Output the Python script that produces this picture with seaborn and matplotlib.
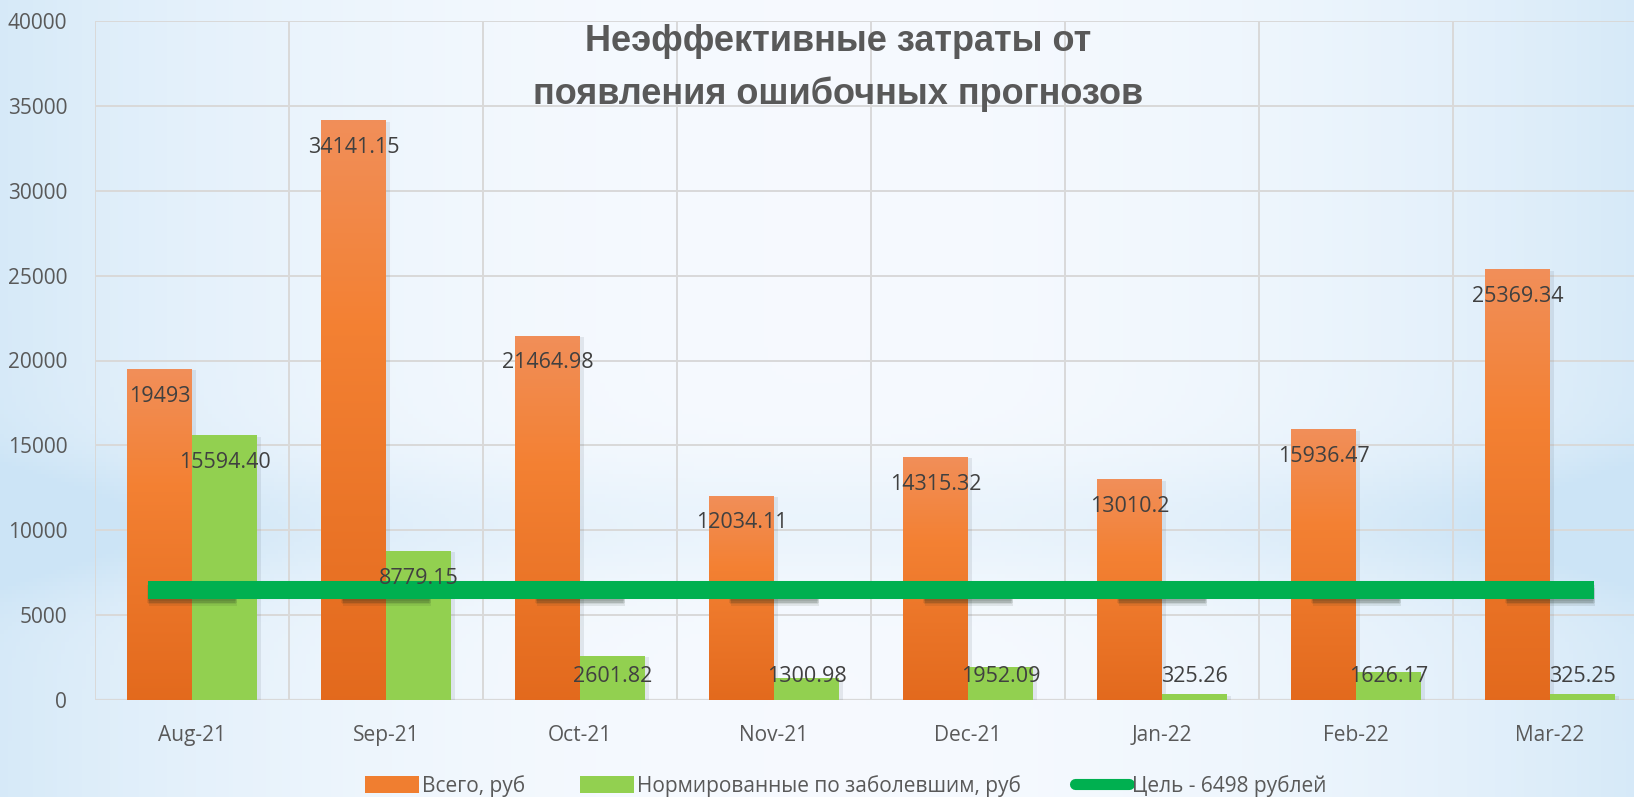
import numpy as np
import pandas as pd
import matplotlib
matplotlib.use("Agg")
import matplotlib.pyplot as plt
import matplotlib.patheffects as pe
from matplotlib.lines import Line2D
from matplotlib.patches import Patch
import seaborn as sns

# ---------------- data ----------------
months = ["Aug-21", "Sep-21", "Oct-21", "Nov-21", "Dec-21", "Jan-22", "Feb-22", "Mar-22"]
total = [19493, 34141.15, 21464.98, 12034.11, 14315.32, 13010.2, 15936.47, 25369.34]
total_labels = ["19493", "34141.15", "21464.98", "12034.11", "14315.32", "13010.2", "15936.47", "25369.34"]
normed = [15594.40, 8779.15, 2601.82, 1300.98, 1952.09, 325.26, 1626.17, 325.25]
normed_labels = ["15594.40", "8779.15", "2601.82", "1300.98", "1952.09", "325.26", "1626.17", "325.25"]
target = 6498
series_names = ["Всего, руб", "Нормированные по заболевшим, руб"]
target_name = "Цель - 6498 рублей"
title = "Неэффективные затраты от\nпоявления ошибочных прогнозов"
yticks = [0, 5000, 10000, 15000, 20000, 25000, 30000, 35000, 40000]

df = pd.DataFrame({
    "month": months * 2,
    "value": total + normed,
    "series": [series_names[0]] * len(months) + [series_names[1]] * len(months),
})

# ---------------- style ----------------
sns.set_theme(style="white")
plt.rcParams["font.family"] = ["Open Sans", "DejaVu Sans"]

ORANGE = "#F07E30"
GREEN = "#92D050"
LINE_GREEN = "#00B050"
TXT = "#404040"
TICK = "#595959"
GRID = "#D9D9D9"

W, H, DPI = 1634, 797, 100
fig = plt.figure(figsize=(W / DPI, H / DPI), dpi=DPI)

# background gradient
bg = fig.add_axes([0, 0, 1, 1], zorder=-10)
xx, yy = np.meshgrid(np.linspace(0, 1, 400), np.linspace(0, 1, 200))
edge = np.clip(np.abs(xx - 0.5) * 2, 0, 1) ** 2.2
band = np.exp(-((yy - 0.66) / 0.08) ** 2) * (0.45 + 0.55 * edge)
t = np.clip(0.75 * edge + 0.6 * band, 0, 1)
c0 = np.array([0.965, 0.980, 0.998])
c1 = np.array([0.80, 0.895, 0.965])
img = c0[None, None, :] * (1 - t[..., None]) + c1[None, None, :] * t[..., None]
bg.imshow(img, extent=(0, 1, 0, 1), aspect="auto", origin="upper")
bg.set_axis_off()

left, right, bottom, top = 95, 1647, 700, 21
ax = fig.add_axes([left / W, 1 - bottom / H, (right - left) / W, (bottom - top) / H])
ax.set_facecolor("none")

sns.barplot(data=df, x="month", y="value", hue="series",
            palette=[ORANGE, GREEN], width=0.67, saturation=1,
            legend=False, ax=ax, zorder=3, linewidth=0, edgecolor="none")

shadow = [pe.SimplePatchShadow(offset=(3, -1), shadow_rgbFace="#556070", alpha=0.12), pe.Normal()]

# gradient on orange bars
grad = np.linspace(0, 1, 256)[:, None]
ctop = np.array([0.945, 0.56, 0.35])
cmid = np.array([0.955, 0.505, 0.20])
cbot = np.array([0.890, 0.415, 0.115])
gimg = np.where(grad < 0.35,
                ctop + (cmid - ctop) * (grad / 0.35),
                cmid + (cbot - cmid) * ((grad - 0.35) / 0.65))
gimg = np.repeat(gimg[:, None, :], 2, axis=1).reshape(256, 2, 3)
for bar in ax.containers[0]:
    bar.set_path_effects(shadow)
    x0, w, h = bar.get_x(), bar.get_width(), bar.get_height()
    im = ax.imshow(gimg, extent=(x0, x0 + w, 0, h), aspect="auto",
                   origin="upper", zorder=3.5)
    im.set_clip_path(bar)
for bar in ax.containers[1]:
    bar.set_path_effects(shadow)

# target line with wide dash markers (soft shadow under the markers)
xs = np.arange(len(months))
marker_rect = [(-1, -0.2045), (1, -0.2045), (1, 0.2045), (-1, 0.2045), (-1, -0.2045)]
soft = [pe.SimplePatchShadow(offset=(dx, dy), shadow_rgbFace="#1a2a1a", alpha=0.09)
        for dx, dy in [(0, -2), (1, -3), (-1, -3), (0, -4), (1, -5)]]
ax.plot(xs, [target] * len(months), color=LINE_GREEN, lw=0,
        marker=marker_rect, markersize=63.5, markeredgewidth=0, linestyle="none",
        zorder=4.8, path_effects=soft)
ax.plot(xs, [target] * len(months), color=LINE_GREEN, lw=13,
        marker=marker_rect, markersize=63.5, markeredgewidth=0,
        solid_capstyle="butt", zorder=5)

# data labels
min_label = 1400
for bars, labels in [(ax.containers[0], total_labels), (ax.containers[1], normed_labels)]:
    for bar, lab in zip(bars, labels):
        cx = bar.get_x() + bar.get_width() / 2
        v = bar.get_height()
        ax.text(cx, max(v - 1600, min_label), lab, ha="center", va="center",
                fontsize=15.5, color=TXT, zorder=6)

ax.set_xlim(-0.5, len(months) - 0.5)
ax.set_ylim(0, 40000)
ax.set_yticks(yticks)
ax.set_yticklabels([str(v) for v in yticks])
ax.set_xticks(np.arange(len(months) + 1) - 0.5, minor=True)
ax.grid(True, axis="y", color=GRID, lw=1.4, zorder=0)
ax.grid(True, axis="x", which="minor", color=GRID, lw=1.4, zorder=0)
ax.grid(False, axis="x", which="major")
ax.set_axisbelow(True)
for s in ax.spines.values():
    s.set_visible(False)
ax.axhline(0, color=GRID, lw=1.6, zorder=2)
ax.tick_params(axis="both", which="both", length=0, labelsize=15, labelcolor=TICK)
ax.tick_params(axis="y", pad=20)
ax.tick_params(axis="x", pad=18)
ax.set_xlabel("")
ax.set_ylabel("")

fig.text(838 / W, 1 - 68 / H, title, ha="center", va="center",
         fontsize=26, fontweight="bold", color=TICK, family="Liberation Sans",
         linespacing=1.6)

handles = [Patch(facecolor=ORANGE, edgecolor="none"),
           Patch(facecolor=GREEN, edgecolor="none"),
           Line2D([0], [0], color=LINE_GREEN, lw=8, solid_capstyle="round")]
fig.legend(handles, series_names + [target_name], loc="center",
           bbox_to_anchor=(846 / W, 1 - 786 / H), ncol=3, frameon=False,
           fontsize=15, labelcolor=TICK, handlelength=2.6, handleheight=0.9,
           handletextpad=0.15, columnspacing=2.6)

fig.savefig("out.png", dpi=DPI)
